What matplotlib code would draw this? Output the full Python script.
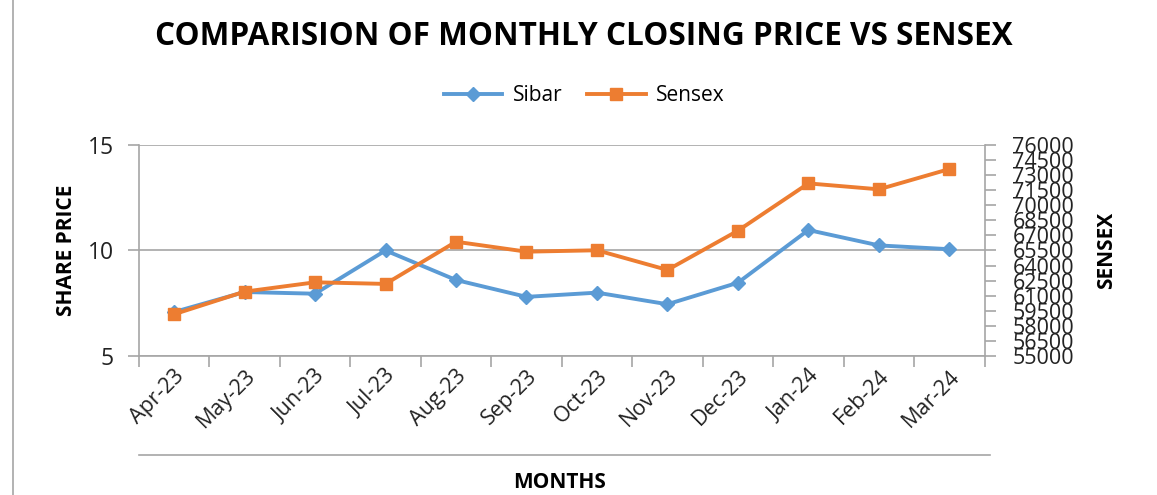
import numpy as np
import matplotlib
matplotlib.use("Agg")
import matplotlib.pyplot as plt
from matplotlib.lines import Line2D

months = ["Apr-23", "May-23", "Jun-23", "Jul-23", "Aug-23", "Sep-23",
          "Oct-23", "Nov-23", "Dec-23", "Jan-24", "Feb-24", "Mar-24"]
sibar = [7.08, 8.03, 7.95, 10.0, 8.6, 7.8, 8.0, 7.45, 8.47, 10.97, 10.24, 10.06]
sensex = [59150, 61400, 62330, 62170, 66370, 65380, 65520, 63560, 67470, 72180, 71590, 73610]
left_ticks = [5, 10, 15]
right_ticks = list(range(55000, 76001, 1500))

BLUE = "#5B9BD5"
ORANGE = "#ED7D31"
GRAY = "#A6A6A6"
plt.rcParams['font.family'] = ['Open Sans', 'DejaVu Sans']

fig = plt.figure(figsize=(11.57, 4.95), dpi=100)
ax = fig.add_axes([0.120, 0.281, 0.731, 0.426])
x = np.arange(len(months))

ax.plot(x, sibar, color=BLUE, lw=2.8, marker="D", ms=7, label="Sibar", zorder=3)
ax.set_ylim(5, 15)
ax.set_yticks(left_ticks)
ax.set_xlim(-0.5, len(months) - 0.5)
ax.set_xticks(np.arange(-0.5, len(months), 1))
ax.set_xticklabels([])
ax.set_xticks(x, minor=True)
ax.set_xticklabels(months, minor=True, rotation=45, ha="right", rotation_mode="anchor",
                   fontsize=15.5, color="#222222")
ax.tick_params(axis="x", which="minor", length=0, pad=7)
ax.tick_params(axis="x", which="major", length=8, color=GRAY, width=1.2)
ax.tick_params(axis="y", length=8, color=GRAY, width=1.2, labelsize=16.5, labelcolor="#222222", pad=10)
ax.grid(axis="y", color=GRAY, lw=1.2)
ax.set_axisbelow(True)
for s in ["top", "right"]:
    ax.spines[s].set_visible(False)
for s in ["left", "bottom"]:
    ax.spines[s].set_color(GRAY)
    ax.spines[s].set_linewidth(1.2)
ax.set_ylabel("SHARE PRICE", fontsize=15, fontweight="bold", labelpad=8)

ax2 = ax.twinx()
ax2.plot(x, sensex, color=ORANGE, lw=2.8, marker="s", ms=9, label="Sensex", zorder=3)
ax2.set_ylim(55000, 76000)
ax2.set_yticks(right_ticks)
ax2.tick_params(axis="y", length=8, color=GRAY, width=1.2, labelsize=15.5, labelcolor="#222222", pad=12)
for s in ["top", "left", "bottom"]:
    ax2.spines[s].set_visible(False)
ax2.spines["right"].set_color(GRAY)
ax2.spines["right"].set_linewidth(1.2)
ax2.set_ylabel("SENSEX", fontsize=15, fontweight="bold", labelpad=16)

fig.text(0.505, 0.927, "COMPARISION OF MONTHLY CLOSING PRICE VS SENSEX",
         ha="center", va="center", fontsize=22.7, fontweight="bold")
h1, l1 = ax.get_legend_handles_labels()
h2, l2 = ax2.get_legend_handles_labels()
fig.legend(h1 + h2, l1 + l2, loc="center", bbox_to_anchor=(0.505, 0.807), ncol=2,
           frameon=False, fontsize=15, handlelength=2.8, columnspacing=1.2, handletextpad=0.5)
fig.text(0.484, 0.025, "MONTHS", ha="center", va="center", fontsize=15, fontweight="bold")
fig.add_artist(Line2D([0.120, 0.856], [0.081, 0.081], color=GRAY, lw=1.2))
fig.add_artist(Line2D([0.011, 0.011], [0, 1], color=GRAY, lw=1.2))

fig.savefig("out.png", dpi=100)
